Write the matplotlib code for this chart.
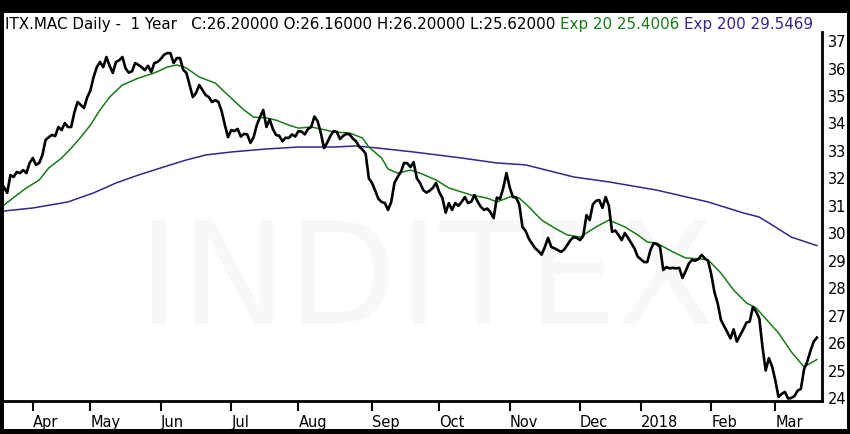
import numpy as np
import matplotlib.pyplot as plt
from matplotlib.patches import Rectangle

# daily closes, one per trading session (Mar 2017 - Mar 2018)
close = [
    31.68, 31.47, 32.12, 32.05, 32.23, 32.19, 32.30, 32.19, 32.56, 32.74,
    32.49, 32.56, 32.85, 33.40, 33.50, 33.58, 33.54, 33.87, 33.76, 34.01,
    33.87, 33.87, 34.41, 34.78, 34.67, 34.56, 34.95, 35.20, 35.69, 36.05,
    36.24, 36.05, 36.42, 36.10, 35.84, 36.24, 36.30, 36.42, 36.00, 35.85,
    35.90, 36.20, 36.13, 36.05, 35.94, 36.10, 35.87, 36.20, 36.24, 36.35,
    36.50, 36.56, 36.56, 36.20, 36.38, 36.38, 35.95, 35.84, 35.40, 34.96,
    35.11, 35.40, 35.22, 35.03, 34.96, 34.78, 34.85, 34.78, 34.45, 33.95,
    33.50, 33.76, 33.72, 33.80, 33.52, 33.62, 33.60, 33.29, 33.50, 33.94,
    34.23, 34.49, 33.87, 34.15, 33.80, 33.58, 33.55, 33.35, 33.48, 33.47,
    33.60, 33.52, 33.72, 33.70, 33.60, 33.80, 33.87, 34.25, 34.08, 33.65,
    33.10, 33.30, 33.55, 33.72, 33.69, 33.43, 33.55, 33.62, 33.60, 33.45,
    33.35, 33.15, 33.05, 32.90, 32.00, 31.83, 31.55, 31.25, 31.14, 31.10,
    30.85, 31.14, 31.83, 32.05, 32.23, 32.56, 32.55, 32.41, 32.59, 32.00,
    31.83, 31.57, 31.48, 31.55, 31.65, 31.83, 31.50, 31.28, 30.75, 31.10,
    30.85, 31.10, 31.00, 31.14, 31.32, 31.10, 31.15, 31.39, 31.15, 30.96,
    30.85, 30.90, 30.77, 30.55, 31.30, 31.25, 31.65, 32.19, 31.68, 31.32,
    31.30, 31.05, 30.23, 30.08, 29.80, 29.62, 29.45, 29.35, 29.22, 29.50,
    29.83, 29.50, 29.45, 29.39, 29.32, 29.40, 29.57, 29.75, 29.86, 29.83,
    29.75, 29.90, 30.66, 30.48, 31.05, 31.18, 31.21, 30.92, 31.32, 31.00,
    30.05, 30.10, 29.94, 29.75, 30.01, 29.83, 29.64, 29.45, 29.15, 29.05,
    28.95, 28.95, 29.39, 29.64, 29.60, 29.50, 28.66, 28.77, 28.72, 28.74,
    28.72, 28.74, 28.37, 28.62, 28.90, 29.03, 29.00, 29.06, 29.21, 29.08,
    29.00, 28.50, 27.85, 27.45, 26.85, 26.62, 26.40, 26.17, 26.50, 26.05,
    26.28, 26.50, 26.75, 26.78, 27.31, 27.15, 26.90, 25.86, 25.00, 25.45,
    25.15, 24.65, 24.04, 24.15, 24.22, 23.98, 24.00, 24.07, 24.27, 24.33,
    25.05, 25.33, 25.72, 26.05, 26.20,
]
session = np.arange(len(close))

# exponential averages
ema20_session = [0, 4, 7, 11, 14, 18, 21, 24, 27, 30, 33, 37, 42, 47, 51, 54,
                 57, 61, 66, 71, 75, 78, 82, 85, 89, 92, 96, 99, 103, 108, 112,
                 114, 118, 120, 123, 127, 130, 135, 139, 146, 151, 154, 159,
                 161, 164, 168, 172, 176, 180, 185, 189, 194, 198, 201, 204,
                 209, 213, 218, 220, 224, 228, 232, 235, 237, 242, 246, 250, 254]
ema20 = [31.03, 31.39, 31.65, 31.94, 32.38, 32.74, 33.10, 33.50, 33.94, 34.49,
         34.96, 35.40, 35.65, 35.84, 36.05, 36.13, 36.02, 35.69, 35.47, 34.92,
         34.49, 34.23, 34.20, 34.12, 33.94, 33.83, 33.87, 33.80, 33.69, 33.65,
         33.47, 33.14, 32.74, 32.34, 32.19, 32.30, 32.19, 31.94, 31.65, 31.39,
         31.28, 31.14, 31.36, 31.28, 30.96, 30.48, 30.19, 29.94, 29.86, 30.23,
         30.48, 30.23, 29.94, 29.68, 29.64, 29.32, 29.10, 29.06, 29.03, 28.55,
         27.93, 27.46, 27.28, 27.02, 26.37, 25.68, 25.13, 25.40]

ema200_session = [0, 9, 20, 28, 35, 42, 52, 57, 63, 71, 82, 92, 103, 110, 117,
                  128, 143, 154, 163, 178, 189, 204, 220, 231, 236, 241, 246, 254]
ema200 = [30.81, 30.92, 31.14, 31.47, 31.83, 32.12, 32.49, 32.67, 32.85, 32.96,
          33.07, 33.14, 33.14, 33.18, 33.10, 32.96, 32.74, 32.56, 32.49, 32.05,
          31.87, 31.57, 31.14, 30.74, 30.59, 30.23, 29.86, 29.55]

month_session = [9, 27, 49, 71, 92, 115, 136, 158, 180, 199, 221, 241]
month_labels = ["Apr", "May", "Jun", "Jul", "Aug", "Sep", "Oct", "Nov",
                "Dec", "2018", "Feb", "Mar"]
price_ticks = list(range(24, 38))

GREEN = "#1a7a1a"
PURPLE = "#3a2290"
W, H = 850, 434

fig = plt.figure(figsize=(8.5, 4.34), dpi=100, facecolor="black")
fig.patches.append(Rectangle((4 / W, 5 / H), 843 / W, 416 / H,
                             transform=fig.transFigure, facecolor="white",
                             edgecolor="none", zorder=-2))

# faint watermark behind the chart
fig.text(427 / W, 110 / H, "INDITEX", fontsize=103, color="#f8f8f8",
         ha="center", va="baseline", zorder=-1)

ax = fig.add_axes([4 / W, 33 / H, 818 / W, 369 / H])
ax.patch.set_visible(False)

ax.plot(ema200_session, ema200, color=PURPLE, lw=1.1)
ax.plot(ema20_session, ema20, color=GREEN, lw=1.1)
ax.plot(session, close, color="black", lw=1.9)

ax.set_xlim(0, 255.6)
ax.set_ylim(23.89, 37.33)

for side in ["left", "top"]:
    ax.spines[side].set_visible(False)
for side in ["right", "bottom"]:
    ax.spines[side].set_linewidth(2)

ax.yaxis.tick_right()
ax.set_yticks(price_ticks)
ax.tick_params(axis="y", length=0, pad=4, labelsize=10.5)

ax.set_xticks(month_session)
ax.set_xticklabels(month_labels, ha="left")
ax.tick_params(axis="x", direction="out", length=7, width=1.5, pad=3,
               labelsize=10.5)

# header line, pieces in different colours
renderer = fig.canvas.get_renderer()
x = 5 / W
parts = [
    ("ITX.MAC Daily -  1 Year   C:26.20000 O:26.16000 H:26.20000 L:25.62000 ", "black"),
    ("Exp 20 25.4006 ", GREEN),
    ("Exp 200 29.5469", PURPLE),
]
for txt, col in parts:
    t = fig.text(x, (H - 29) / H, txt, color=col, fontsize=10.9, va="baseline")
    bb = t.get_window_extent(renderer)
    x = bb.x1 / W

fig.savefig("out.png", dpi=100, facecolor="black")
